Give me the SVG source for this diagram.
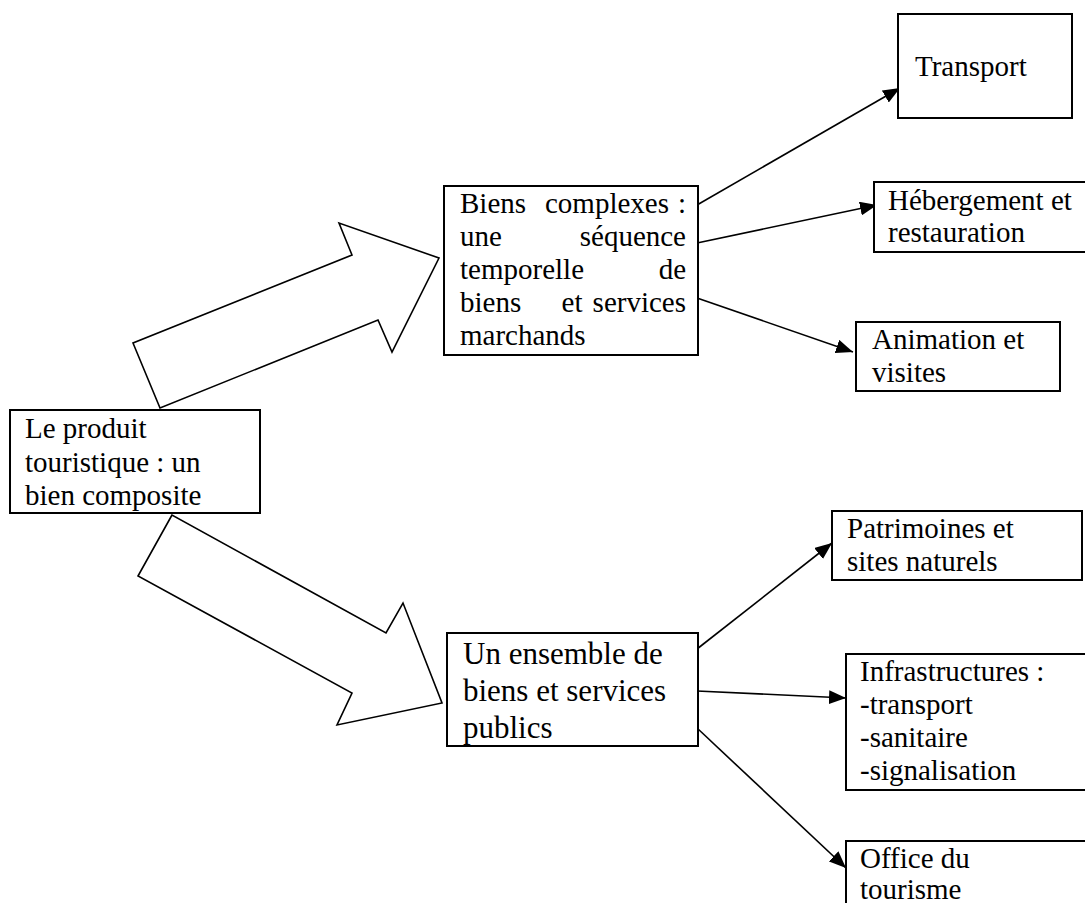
<svg xmlns="http://www.w3.org/2000/svg" width="1085" height="903" viewBox="0 0 1085 903">
<style>
.box{fill:#fff;stroke:#000;stroke-width:2}
.big{fill:#fff;stroke:#000;stroke-width:1.6;stroke-linejoin:miter}
.t{font-family:"Liberation Serif","Times New Roman",serif;font-size:29px;fill:#000}
.t2{font-family:"Liberation Serif","Times New Roman",serif;font-size:31px;fill:#000}
.c{stroke:#000;stroke-width:1.6;fill:none;marker-end:url(#ah)}
</style>
<defs>
<marker id="ah" markerUnits="userSpaceOnUse" markerWidth="18" markerHeight="14" refX="17" refY="7" orient="auto">
<path d="M0,0 L17,7 L0,14 Z" fill="#000"/>
</marker>
</defs>
<rect width="1085" height="903" fill="#fff"/>
<g id="arrows-big">
<polygon class="big" points="160,408 133,343 352,255 339,223 439,258 392,352 378,320"/>
<polygon class="big" points="172,515 138,576 352,693 337,725 442,703 403,603 386,633"/>
</g>
<g id="connectors">
<line class="c" x1="697" y1="205" x2="900" y2="88"/>
<line class="c" x1="697" y1="243" x2="877" y2="205"/>
<line class="c" x1="697" y1="298" x2="853" y2="352"/>
<line class="c" x1="697" y1="649" x2="832" y2="543"/>
<line class="c" x1="697" y1="691" x2="846" y2="698"/>
<line class="c" x1="697" y1="728" x2="846" y2="868"/>
</g>
<g id="produit">
<rect class="box" x="10" y="410" width="250" height="103"/>
<text class="t" x="25" y="438">Le produit</text>
<text class="t" x="25" y="472">touristique : un</text>
<text class="t" x="25" y="505">bien composite</text>
</g>
<g id="biens-complexes">
<rect class="box" x="444" y="186" width="254" height="169"/>
<text class="t" x="460" y="213">Biens</text>
<text class="t" x="545" y="213">complexes</text>
<text class="t" x="686" y="213" text-anchor="end">:</text>
<text class="t" x="460" y="246">une</text>
<text class="t" x="686" y="246" text-anchor="end">séquence</text>
<text class="t" x="460" y="279">temporelle</text>
<text class="t" x="686" y="279" text-anchor="end">de</text>
<text class="t" x="460" y="312">biens</text>
<text class="t" x="572" y="312" text-anchor="middle">et</text>
<text class="t" x="686" y="312" text-anchor="end">services</text>
<text class="t" x="460" y="345">marchands</text>
</g>
<g id="ensemble">
<rect class="box" x="447" y="633" width="251" height="113"/>
<text class="t2" x="463" y="664">Un ensemble de</text>
<text class="t2" x="463" y="701">biens et services</text>
<text class="t2" x="463" y="738">publics</text>
</g>
<g id="transport">
<rect class="box" x="898" y="14" width="174" height="104"/>
<text class="t" x="915" y="76">Transport</text>
</g>
<g id="hebergement">
<rect class="box" x="874" y="182" width="220" height="70"/>
<text class="t" x="888" y="210">Hébergement et</text>
<text class="t" x="888" y="242">restauration</text>
</g>
<g id="animation">
<rect class="box" x="856" y="322" width="204" height="69"/>
<text class="t" x="872" y="349">Animation et</text>
<text class="t" x="872" y="382">visites</text>
</g>
<g id="patrimoines">
<rect class="box" x="832" y="511" width="250" height="69"/>
<text class="t" x="847" y="538">Patrimoines et</text>
<text class="t" x="847" y="571">sites naturels</text>
</g>
<g id="infrastructures">
<rect class="box" x="846" y="654" width="250" height="136"/>
<text class="t" x="860" y="681">Infrastructures :</text>
<text class="t" x="860" y="714">-transport</text>
<text class="t" x="860" y="747">-sanitaire</text>
<text class="t" x="860" y="780">-signalisation</text>
</g>
<g id="office">
<rect class="box" x="846" y="841" width="250" height="80"/>
<text class="t" x="860" y="868">Office du</text>
<text class="t" x="860" y="899">tourisme</text>
</g>
</svg>
